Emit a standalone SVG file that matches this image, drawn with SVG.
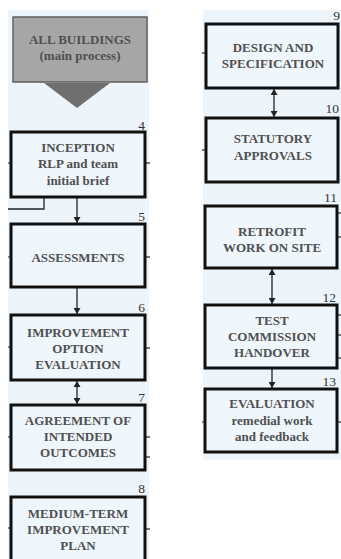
<svg xmlns="http://www.w3.org/2000/svg" width="341" height="559" viewBox="0 0 341 559">
<defs>
<style>
.panel{fill:#edf5fb}
.box{fill:#eff6fc;stroke:#111;stroke-width:3}
.gray{fill:#a6a6a6;stroke:#5f5f5f;stroke-width:1.5}
.tri{fill:#6f6f6f}
text{font-family:"Liberation Serif",serif;font-weight:bold;font-size:13px;fill:#505050;text-anchor:middle;dominant-baseline:central}
.num{font-weight:normal;font-size:13.5px;text-anchor:end;fill:#333}
.ln{stroke:#222;stroke-width:1.3;fill:none}
.tk{stroke:#222;stroke-width:1.2}
</style>
<marker id="ah" viewBox="0 0 8 8" refX="8" refY="4" markerWidth="6" markerHeight="7" orient="auto-start-reverse" markerUnits="userSpaceOnUse" preserveAspectRatio="none">
<path d="M0,0 L8,4 L0,8 Z" fill="#222"/>
</marker>
</defs>
<rect class="panel" x="8" y="10" width="141" height="549"/>
<rect class="panel" x="203" y="10" width="138" height="450"/>

<g id="start">
<rect class="gray" x="13" y="17" width="134" height="65"/>
<text x="80" y="39">ALL BUILDINGS</text>
<text x="80" y="55">(main process)</text>
<polygon class="tri" points="44,83 110,83 77,108"/>
</g>

<g id="n4">
<rect class="box" x="11" y="132" width="134" height="65"/>
<text x="78" y="147">INCEPTION</text>
<text x="78" y="163">RLP and team</text>
<text x="78" y="180">initial brief</text>
<text class="num" x="145" y="125">4</text>
</g>
<g id="n5">
<rect class="box" x="11" y="224" width="134" height="63"/>
<text x="78" y="257">ASSESSMENTS</text>
<text class="num" x="145" y="216">5</text>
</g>
<g id="n6">
<rect class="box" x="11" y="315" width="134" height="65"/>
<text x="78" y="332">IMPROVEMENT</text>
<text x="78" y="348">OPTION</text>
<text x="78" y="364">EVALUATION</text>
<text class="num" x="145" y="307">6</text>
</g>
<g id="n7">
<rect class="box" x="11" y="405" width="134" height="65"/>
<text x="78" y="420">AGREEMENT OF</text>
<text x="78" y="436">INTENDED</text>
<text x="78" y="452">OUTCOMES</text>
<text class="num" x="145" y="397">7</text>
</g>
<g id="n8">
<rect class="box" x="11" y="497" width="134" height="66"/>
<text x="78" y="513">MEDIUM-TERM</text>
<text x="78" y="529">IMPROVEMENT</text>
<text x="78" y="545">PLAN</text>
<text class="num" x="145" y="488">8</text>
</g>

<g id="n9">
<rect class="box" x="206" y="24" width="132" height="64"/>
<text x="273" y="47">DESIGN AND</text>
<text x="273" y="63">SPECIFICATION</text>
<text class="num" x="340" y="15">9</text>
</g>
<g id="n10">
<rect class="box" x="206" y="118" width="132" height="64"/>
<text x="273" y="138">STATUTORY</text>
<text x="273" y="155">APPROVALS</text>
<text class="num" x="339" y="108">10</text>
</g>
<g id="n11">
<rect class="box" x="205" y="206" width="132" height="62"/>
<text x="272" y="231">RETROFIT</text>
<text x="272" y="247">WORK ON SITE</text>
<text class="num" x="337" y="197">11</text>
</g>
<g id="n12">
<rect class="box" x="205" y="305" width="132" height="63"/>
<text x="272" y="320">TEST</text>
<text x="272" y="336">COMMISSION</text>
<text x="272" y="352">HANDOVER</text>
<text class="num" x="336" y="297">12</text>
</g>
<g id="n13">
<rect class="box" x="205" y="389" width="132" height="63"/>
<text x="272" y="403">EVALUATION</text>
<text x="272" y="420">remedial work</text>
<text x="272" y="436">and feedback</text>
<text class="num" x="336" y="381">13</text>
</g>

<g id="connectors">
<line class="ln" x1="77" y1="198" x2="77" y2="223" marker-end="url(#ah)"/>
<line class="ln" x1="77" y1="288" x2="77" y2="314" marker-end="url(#ah)"/>
<line class="ln" x1="77" y1="381" x2="77" y2="404" marker-start="url(#ah)" marker-end="url(#ah)"/>
<line class="ln" x1="274" y1="89" x2="274" y2="117" marker-start="url(#ah)" marker-end="url(#ah)"/>
<line class="ln" x1="272" y1="269" x2="272" y2="304" marker-start="url(#ah)" marker-end="url(#ah)"/>
<line class="ln" x1="272" y1="369" x2="272" y2="388" marker-end="url(#ah)"/>
<polyline class="ln" points="44,198 44,209 8,209"/>
<g class="tk">
<line x1="8" y1="163" x2="10" y2="163"/><line x1="146" y1="163" x2="150" y2="163"/>
<line x1="8" y1="257" x2="10" y2="257"/><line x1="146" y1="257" x2="150" y2="257"/>
<line x1="8" y1="347" x2="10" y2="347"/><line x1="146" y1="348" x2="150" y2="348"/>
<line x1="8" y1="437" x2="10" y2="437"/><line x1="146" y1="437" x2="150" y2="437"/><line x1="146" y1="457" x2="150" y2="457"/>
<line x1="8" y1="528" x2="10" y2="528"/><line x1="146" y1="529" x2="150" y2="529"/>
<line x1="202" y1="53" x2="205" y2="53"/>
<line x1="202" y1="150" x2="205" y2="150"/>
<line x1="338" y1="213" x2="341" y2="213"/><line x1="338" y1="237" x2="341" y2="237"/>
<line x1="338" y1="315" x2="341" y2="315"/><line x1="338" y1="335" x2="341" y2="335"/><line x1="338" y1="358" x2="341" y2="358"/>
<line x1="202" y1="422" x2="204" y2="422"/><line x1="338" y1="422" x2="341" y2="422"/>
</g>
</g>
</svg>
